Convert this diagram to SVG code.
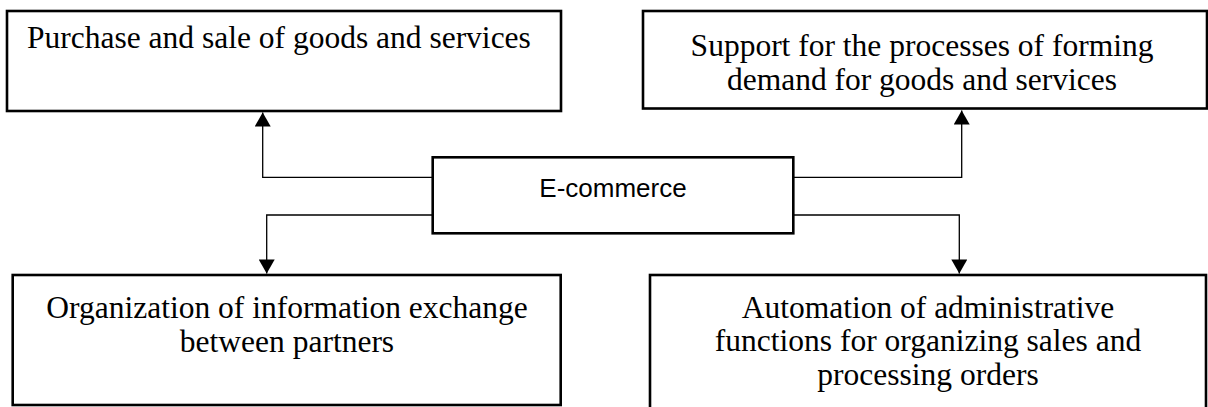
<svg xmlns="http://www.w3.org/2000/svg" width="1208" height="407" viewBox="0 0 1208 407">
  <style>
    .box { fill: #ffffff; stroke: #000000; stroke-width: 2.6; }
    .label { font-family: "Liberation Serif", "Times New Roman", serif; font-size: 31.5px; fill: #000000; }
    .hub { font-family: "Liberation Sans", Arial, sans-serif; font-size: 26px; fill: #000000; }
    .link { fill: none; stroke: #000000; stroke-width: 1.3; }
  </style>
  <defs>
    <marker id="head" markerUnits="userSpaceOnUse" markerWidth="16" markerHeight="16" viewBox="0 0 14 16" refX="14" refY="8" orient="auto">
      <path d="M0,0 L14,8 L0,16 Z" fill="#000000"/>
    </marker>
  </defs>
  <rect width="1208" height="407" fill="#ffffff"/>

  <!-- elbow links from the hub to the four outer boxes -->
  <g id="connectors">
    <path class="link" d="M432.7,177.3 H262.7 V112.5" marker-end="url(#head)"/>
    <path class="link" d="M432.7,215 H266.7 V273.5" marker-end="url(#head)"/>
    <path class="link" d="M793.3,177.3 H961.7 V110.5" marker-end="url(#head)"/>
    <path class="link" d="M793.3,215 H959.3 V273.5" marker-end="url(#head)"/>
  </g>

  <g id="node-purchase">
    <rect class="box" x="7" y="11" width="554" height="100"/>
    <text class="label" x="27" y="47.5">Purchase and sale of goods and services</text>
  </g>

  <g id="node-demand">
    <rect class="box" x="643" y="11" width="564" height="97.5"/>
    <text class="label" text-anchor="middle" x="922" y="56">Support for the processes of forming</text>
    <text class="label" text-anchor="middle" x="922" y="90">demand for goods and services</text>
  </g>

  <g id="node-ecommerce">
    <rect class="box" x="432.7" y="157.3" width="360.6" height="76"/>
    <text class="hub" text-anchor="middle" x="613" y="197">E-commerce</text>
  </g>

  <g id="node-exchange">
    <rect class="box" x="12.7" y="275" width="548" height="130"/>
    <text class="label" text-anchor="middle" x="287" y="318">Organization of information exchange</text>
    <text class="label" text-anchor="middle" x="287" y="352">between partners</text>
  </g>

  <g id="node-automation">
    <rect class="box" x="650" y="275" width="556" height="134"/>
    <text class="label" text-anchor="middle" x="928" y="318">Automation of administrative</text>
    <text class="label" text-anchor="middle" x="928" y="351">functions for organizing sales and</text>
    <text class="label" text-anchor="middle" x="928" y="385">processing orders</text>
  </g>
</svg>
